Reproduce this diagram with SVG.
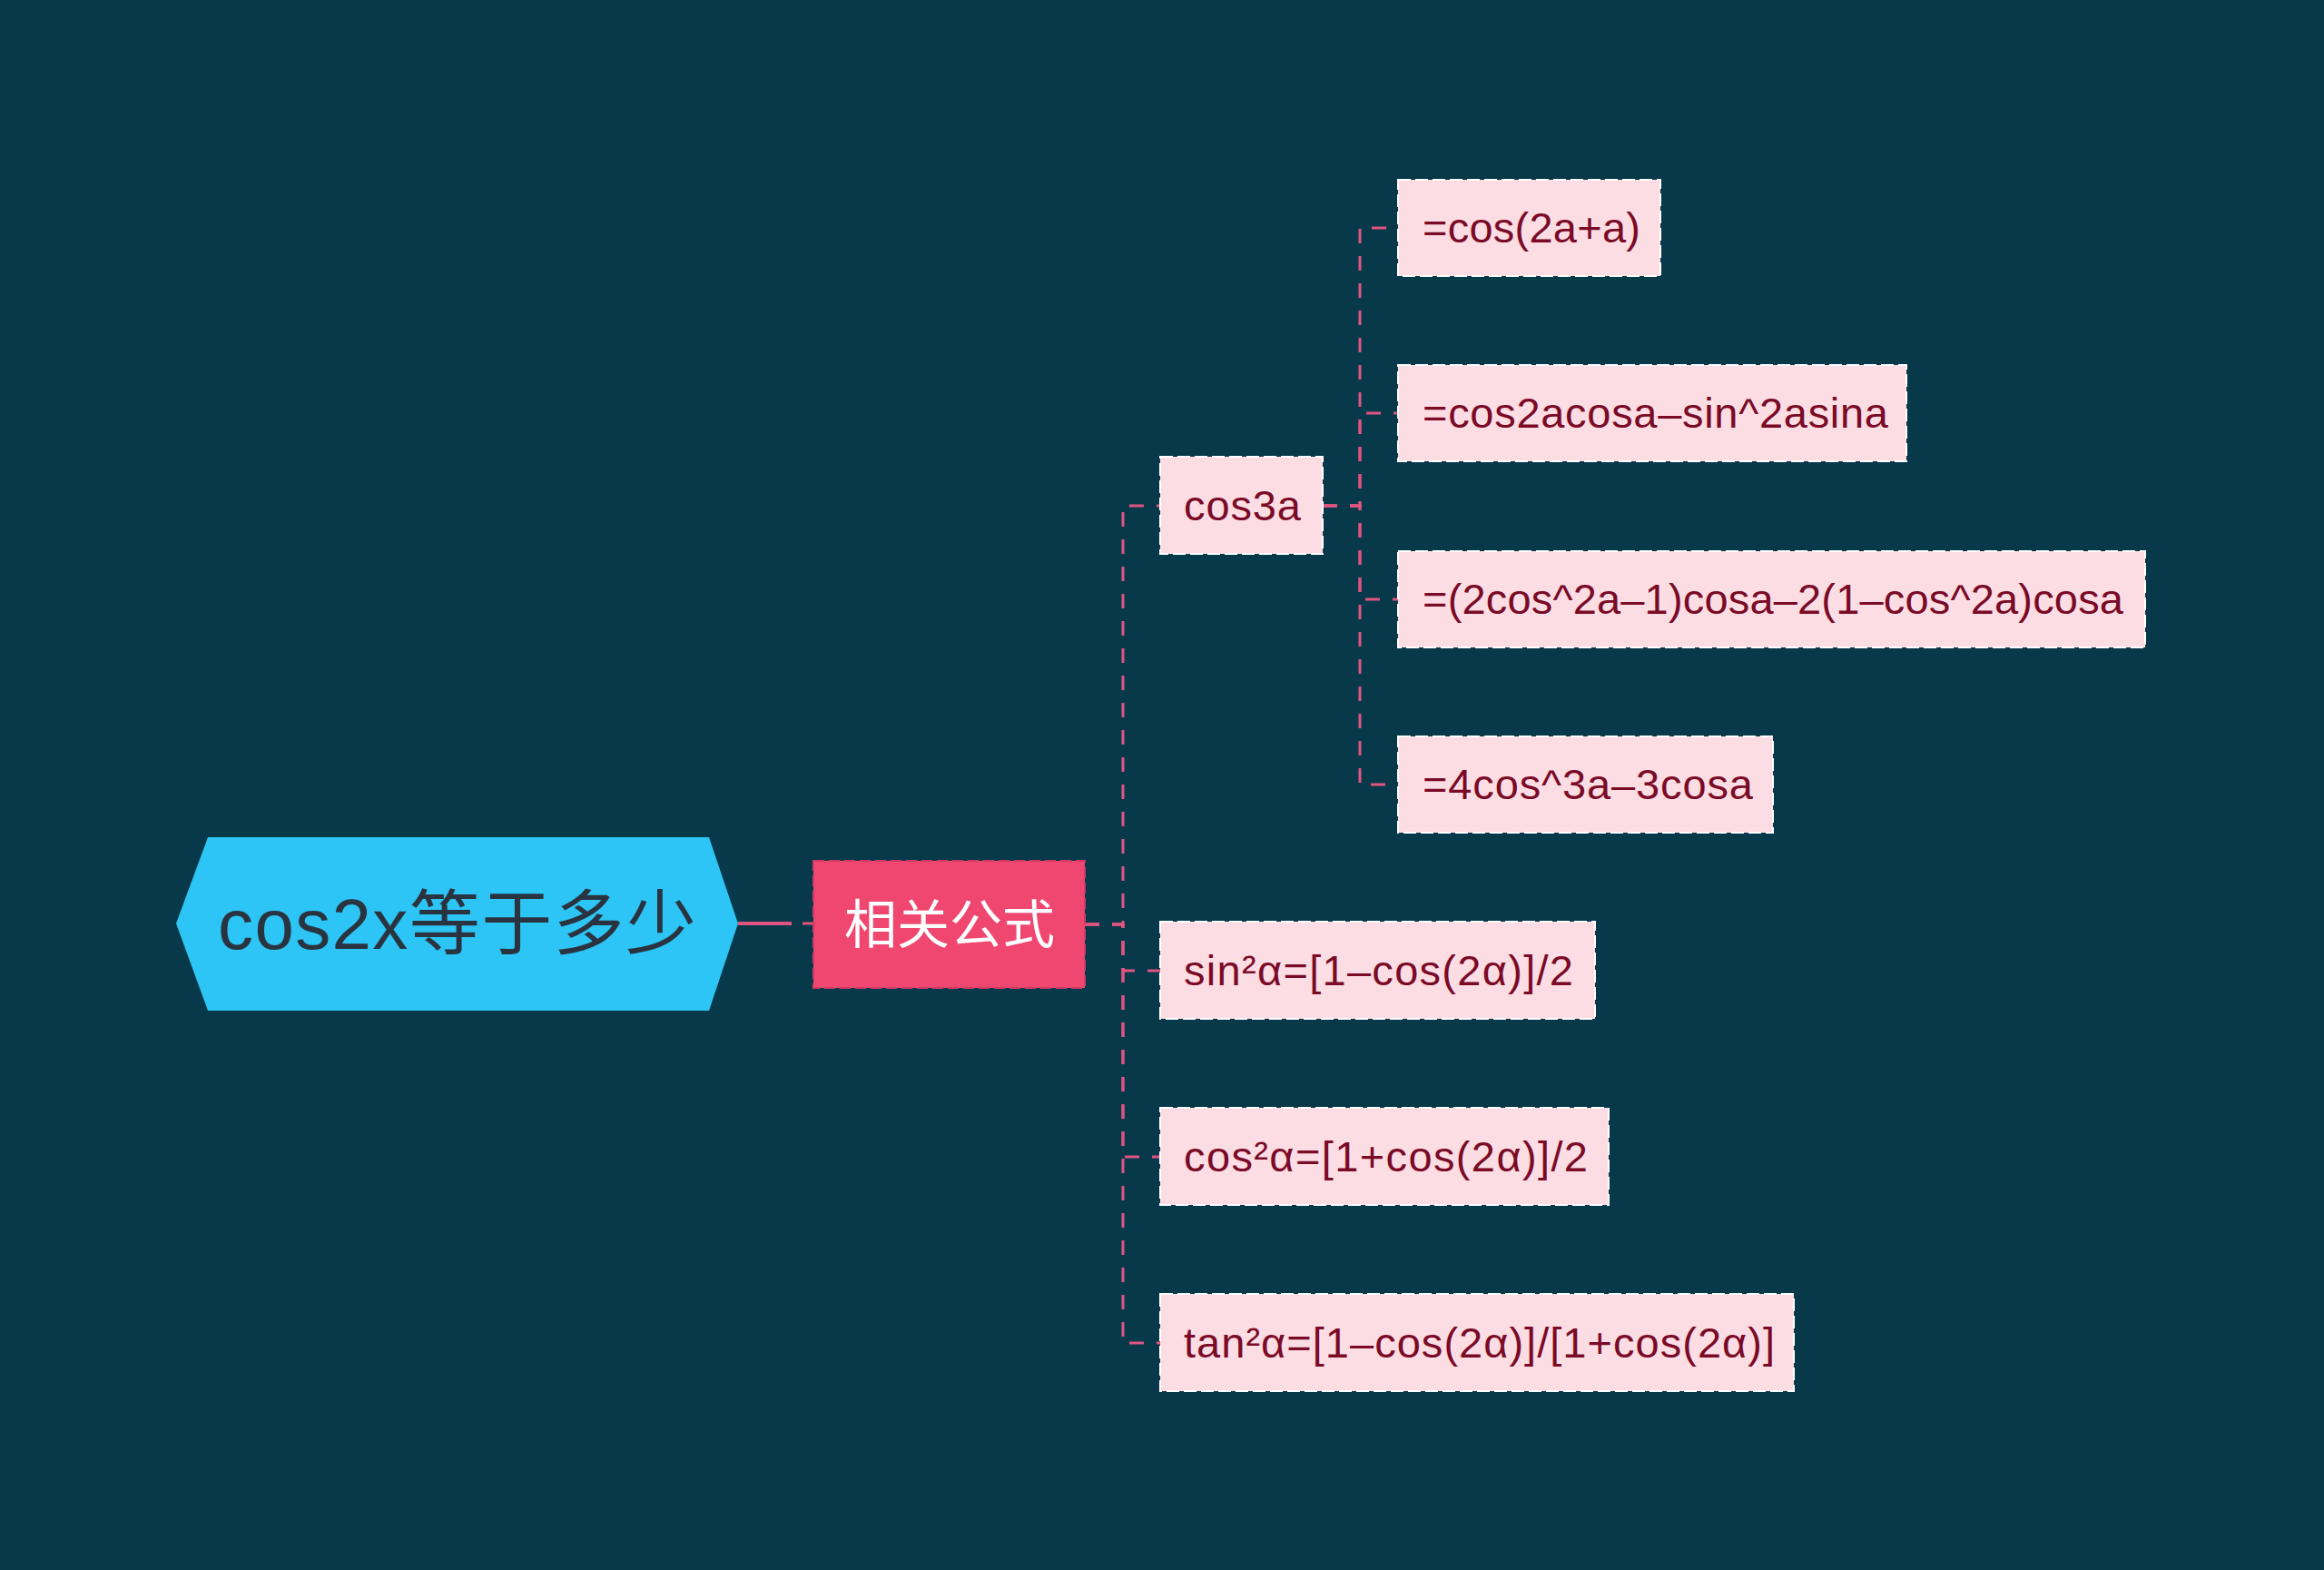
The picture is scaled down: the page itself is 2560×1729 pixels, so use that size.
<svg xmlns="http://www.w3.org/2000/svg" width="2560" height="1729" viewBox="0 0 2560 1729">
<style>
  .bg { fill: #08394B; }
  .conn { fill: none; stroke: #E05580; stroke-width: 3; stroke-dasharray: 16 14; }
  .box { fill: #FDDDE4; stroke: #FFFFFF; stroke-width: 2; stroke-dasharray: 14 5; }
  .lbl { font-family: "Liberation Sans", "Noto Sans CJK SC", sans-serif; font-size: 47px; fill: #7A0A26; }
  .root-t { font-family: "Liberation Sans", "Noto Sans CJK SC", sans-serif; font-size: 78px; fill: #2A3440; }
  .main-t { font-family: "Noto Sans CJK SC", "Liberation Sans", sans-serif; font-size: 58px; fill: #FFFFFF; }
</style>
<rect class="bg" x="0" y="0" width="2560" height="1729"/>

<g id="connectors">
  <line x1="813" y1="1017" x2="872" y2="1017" stroke="#E05580" stroke-width="4"/>
  <line x1="884" y1="1017" x2="896" y2="1017" stroke="#E05580" stroke-width="3"/>
  <path class="conn" d="M1195,1018 H1237 V557 H1278"/>
  <path class="conn" d="M1195,1018 H1237 V1069 H1278"/>
  <path class="conn" d="M1195,1018 H1237 V1274 H1278"/>
  <path class="conn" d="M1195,1018 H1237 V1479 H1278"/>
  <path class="conn" d="M1457,557 H1498 V251 H1540"/>
  <path class="conn" d="M1457,557 H1498 V455 H1540"/>
  <path class="conn" d="M1457,557 H1498 V660 H1540"/>
  <path class="conn" d="M1457,557 H1498 V864 H1540"/>
</g>

<g id="root">
  <polygon points="194,1017 229,922 781,922 813,1017 781,1113 229,1113" fill="#2DC5F5"/>
  <text class="root-t" x="240" y="1045" textLength="527" lengthAdjust="spacing">cos2x等于多少</text>
</g>

<g id="main">
  <rect x="896" y="948" width="299" height="140" fill="#EF4770" stroke="#D23A62" stroke-width="2" stroke-dasharray="12 5"/>
  <text class="main-t" x="1046" y="1039" text-anchor="middle">相关公式</text>
</g>

<g id="n-cos3a">
  <rect class="box" x="1278" y="503" width="179" height="107"/>
  <text class="lbl" x="1304" y="573" textLength="129" lengthAdjust="spacing">cos3a</text>
</g>
<g id="n-sin2">
  <rect class="box" x="1278" y="1015" width="479" height="107"/>
  <text class="lbl" x="1304" y="1085" textLength="429" lengthAdjust="spacing">sin²α=[1–cos(2α)]/2</text>
</g>
<g id="n-cos2">
  <rect class="box" x="1278" y="1220" width="494" height="107"/>
  <text class="lbl" x="1304" y="1290" textLength="445" lengthAdjust="spacing">cos²α=[1+cos(2α)]/2</text>
</g>
<g id="n-tan2">
  <rect class="box" x="1278" y="1425" width="698" height="107"/>
  <text class="lbl" x="1304" y="1495" textLength="651" lengthAdjust="spacing">tan²α=[1–cos(2α)]/[1+cos(2α)]</text>
</g>

<g id="n-c1">
  <rect class="box" x="1540" y="198" width="289" height="106"/>
  <text class="lbl" x="1567" y="267" textLength="240" lengthAdjust="spacing">=cos(2a+a)</text>
</g>
<g id="n-c2">
  <rect class="box" x="1540" y="402" width="560" height="106"/>
  <text class="lbl" x="1567" y="471" textLength="513" lengthAdjust="spacing">=cos2acosa–sin^2asina</text>
</g>
<g id="n-c3">
  <rect class="box" x="1540" y="607" width="823" height="106"/>
  <text class="lbl" x="1567" y="676" textLength="772" lengthAdjust="spacing">=(2cos^2a–1)cosa–2(1–cos^2a)cosa</text>
</g>
<g id="n-c4">
  <rect class="box" x="1540" y="811" width="413" height="106"/>
  <text class="lbl" x="1567" y="880" textLength="364" lengthAdjust="spacing">=4cos^3a–3cosa</text>
</g>
</svg>
